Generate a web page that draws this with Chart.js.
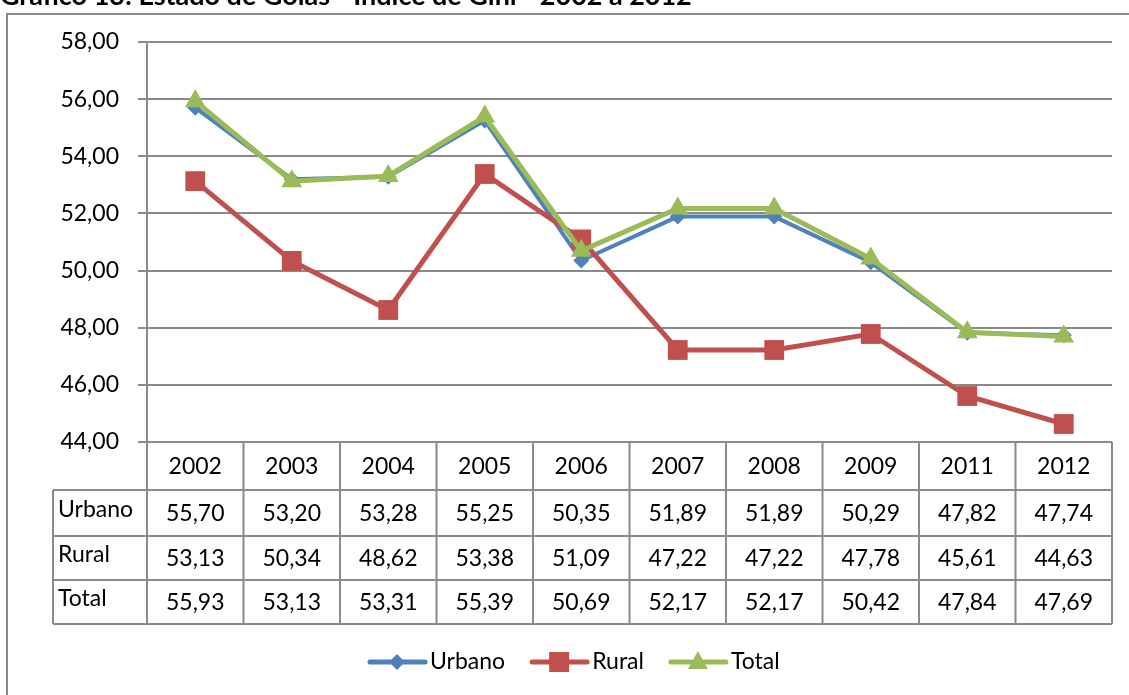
<!DOCTYPE html>
<html>
<head>
<meta charset="utf-8">
<script src="https://cdn.jsdelivr.net/npm/chart.js@4.4.1/dist/chart.umd.min.js"></script>
<style>
  html, body { margin: 0; padding: 0; background: #fff; }
  #wrap { width: 1129px; height: 695px; position: relative; }
</style>
</head>
<body>
<div id="wrap"><canvas id="myChart" width="1129" height="695"></canvas></div>
<script>
// dados do gráfico (índice de Gini, Goiás)
const anos = ['2002', '2003', '2004', '2005', '2006', '2007', '2008', '2009', '2011', '2012'];
const urbano = [55.70, 53.20, 53.28, 55.25, 50.35, 51.89, 51.89, 50.29, 47.82, 47.74];
const rural = [53.13, 50.34, 48.62, 53.38, 51.09, 47.22, 47.22, 47.78, 45.61, 44.63];
const total = [55.93, 53.13, 53.31, 55.39, 50.69, 52.17, 52.17, 50.42, 47.84, 47.69];
const yTicks = [44, 46, 48, 50, 52, 54, 56, 58];

const titulo = 'Gráfico 13: Estado de Goiás - Índice de Gini - 2002 a 2012';
const fonte = 'Lato, "Open Sans", sans-serif';
const cinza = '#8a8a8a';

function fmt(v) {
    return v.toFixed(2).replace('.', ',');
}

const series = [
    { label: 'Urbano', data: urbano, color: '#4F81BD', marker: 'rectRot' },
    { label: 'Rural', data: rural, color: '#C0504D', marker: 'rect' },
    { label: 'Total', data: total, color: '#9BBB59', marker: 'triangle' }
];

function marcador(ctx, tipo, x, y, cor) {
    ctx.save();
    ctx.fillStyle = cor;
    ctx.beginPath();
    if (tipo == 'rectRot') {
        ctx.moveTo(x, y - 8); ctx.lineTo(x + 8, y); ctx.lineTo(x, y + 8); ctx.lineTo(x - 8, y);
    } else if (tipo == 'rect') {
        ctx.rect(x - 10, y - 10, 20, 20);
    } else {
        ctx.moveTo(x, y - 11); ctx.lineTo(x + 10, y + 7); ctx.lineTo(x - 10, y + 7);
    }
    ctx.closePath();
    ctx.fill();
    ctx.restore();
}

// moldura, título, tabela de dados e legenda
const tabelaPlugin = {
    id: 'tabela',
    beforeDraw(chart) {
        const ctx = chart.ctx;
        ctx.save();
        ctx.fillStyle = '#fff';
        ctx.fillRect(0, 0, chart.width, chart.height);
        ctx.strokeStyle = cinza;
        ctx.lineWidth = 2;
        ctx.strokeRect(7, 14, 1300, 900);

        // título (cortado no topo, como no original)
        let size = 20;
        ctx.font = 'bold ' + size + 'px ' + fonte;
        size = size * 692 / ctx.measureText(titulo).width;
        ctx.font = 'bold ' + size + 'px ' + fonte;
        ctx.fillStyle = '#000';
        ctx.textBaseline = 'alphabetic';
        ctx.fillText(titulo, 0, 5);
        ctx.restore();
    },
    afterDraw(chart) {
        const ctx = chart.ctx;
        const area = chart.chartArea;
        const xs = chart.scales.x;
        const colW = area.width / anos.length;
        const top = area.bottom;
        const rows = [top, top + 48, top + 94, top + 138, top + 182];
        const labelLeft = 53;

        ctx.save();
        ctx.strokeStyle = cinza;
        ctx.lineWidth = 2;
        ctx.beginPath();
        // linhas horizontais
        ctx.moveTo(area.left, rows[0]); ctx.lineTo(area.right, rows[0]);
        for (let r = 1; r < rows.length; r++) {
            ctx.moveTo(labelLeft, rows[r]); ctx.lineTo(area.right, rows[r]);
        }
        // linhas verticais
        for (let i = 0; i <= anos.length; i++) {
            const x = area.left + i * colW;
            ctx.moveTo(x, rows[0]); ctx.lineTo(x, rows[4]);
        }
        ctx.moveTo(labelLeft, rows[1]); ctx.lineTo(labelLeft, rows[4]);
        ctx.stroke();

        ctx.fillStyle = '#000';
        ctx.font = '23px ' + fonte;
        ctx.textBaseline = 'middle';
        ctx.textAlign = 'center';
        anos.forEach(function(ano, i) {
            const cx = xs.getPixelForValue(i);
            ctx.fillText(ano, cx, (rows[0] + rows[1]) / 2 + 1);
            series.forEach(function(s, r) {
                ctx.fillText(fmt(s.data[i]), cx, (rows[r + 1] + rows[r + 2]) / 2 + 1);
            });
        });
        ctx.textAlign = 'left';
        series.forEach(function(s, r) {
            ctx.fillText(s.label, labelLeft + 5, (rows[r + 1] + rows[r + 2]) / 2 - 3);
        });

        // legenda
        let lx = 370;
        const ly = 662;
        series.forEach(function(s) {
            ctx.strokeStyle = s.color;
            ctx.lineWidth = 5;
            ctx.lineCap = 'round';
            ctx.beginPath();
            ctx.moveTo(lx, ly); ctx.lineTo(lx + 55, ly);
            ctx.stroke();
            marcador(ctx, s.marker, lx + 27, ly, s.color);
            ctx.fillStyle = '#000';
            ctx.fillText(s.label, lx + 60, ly);
            lx += 60 + ctx.measureText(s.label).width + 27;
        });
        ctx.restore();
    }
};

const ctx = document.getElementById('myChart').getContext('2d');

const myChart = new Chart(ctx, {
    type: 'line',
    data: {
        labels: anos,
        datasets: [
            {
                label: 'Urbano', data: urbano, order: 2,
                borderColor: '#4F81BD', backgroundColor: '#4F81BD', borderWidth: 4,
                pointStyle: 'rectRot', pointRadius: 8, pointBorderWidth: 0
            },
            {
                label: 'Rural', data: rural, order: 1,
                borderColor: '#C0504D', backgroundColor: '#C0504D', borderWidth: 5,
                pointStyle: 'rect', pointRadius: 14, pointBorderWidth: 0
            },
            {
                label: 'Total', data: total, order: 0,
                borderColor: '#9BBB59', backgroundColor: '#9BBB59', borderWidth: 5,
                pointStyle: 'triangle', pointRadius: 12, pointBorderWidth: 0
            }
        ]
    },
    options: {
        responsive: false,
        animation: false,
        layout: { padding: { left: 0, right: 17, top: 42, bottom: 253 } },
        plugins: {
            legend: { display: false },
            tooltip: { enabled: false }
        },
        scales: {
            x: {
                display: false,
                offset: true
            },
            y: {
                min: 44,
                max: 58,
                afterFit(scale) { scale.width = 147; },
                afterBuildTicks(scale) {
                    scale.ticks = yTicks.map(function(v) { return { value: v }; });
                },
                ticks: {
                    color: '#000',
                    font: { family: fonte, size: 23 },
                    padding: 19,
                    callback: function(v) { return fmt(v); }
                },
                grid: { color: cinza, lineWidth: 2, tickLength: 9 },
                border: { color: cinza, width: 2 }
            }
        }
    },
    plugins: [tabelaPlugin]
});
</script>
</body>
</html>
